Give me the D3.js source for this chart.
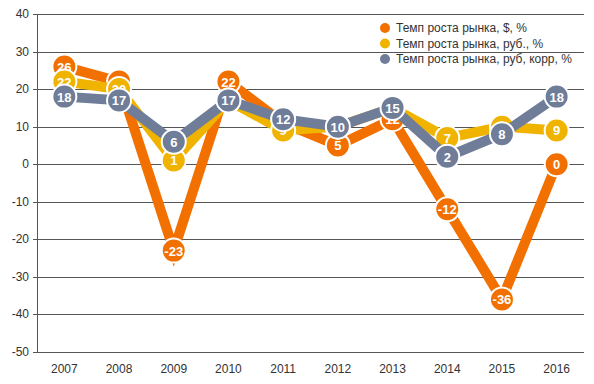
<!DOCTYPE html>
<html>
<head>
<meta charset="utf-8">
<script src="https://cdn.jsdelivr.net/npm/d3@7"></script>
<style>
  body { margin: 0; background: #fff; }
  text { font-family: Arial, "Liberation Sans", sans-serif; }
</style>
</head>
<body>
<svg></svg>
<script>
var width = 594;
var height = 384;

// data
var years = ['2007', '2008', '2009', '2010', '2011', '2012', '2013', '2014', '2015', '2016'];
var usd = [26, 22, -23, 22, 11, 5, 12, -12, -36, 0];
var rub = [22, 20, 1, 17, 9, 10, 15, 7, 10, 9];
var rubCorr = [18, 17, 6, 17, 12, 10, 15, 2, 8, 18];
var seriesNames = ['Темп роста рынка, $, %', 'Темп роста рынка, руб., %', 'Темп роста рынка, руб, корр, %'];
var colors = ['#f27000', '#efb300', '#6f7d99'];
var yTicks = [40, 30, 20, 10, 0, -10, -20, -30, -40, -50];

var series = [usd, rub, rubCorr];

var svg = d3.select('svg')
            .attr('width', width)
            .attr('height', height);

var x = d3.scaleBand()
          .domain(years)
          .range([37, 584]);

var y = d3.scaleLinear()
          .domain([-50, 40])
          .range([352, 14]);

// grid
svg.append('g')
   .selectAll('line')
   .data(yTicks)
   .enter()
   .append('line')
   .attr('x1', 33)
   .attr('x2', 584)
   .attr('y1', d => Math.round(y(d)) + 0.5)
   .attr('y2', d => Math.round(y(d)) + 0.5)
   .attr('stroke', '#555')
   .attr('stroke-width', 1);

svg.append('line')
   .attr('x1', 37.5).attr('x2', 37.5)
   .attr('y1', y(40)).attr('y2', y(-50))
   .attr('stroke', '#555');

svg.append('g')
   .selectAll('text')
   .data(yTicks)
   .enter()
   .append('text')
   .attr('x', 29)
   .attr('y', d => y(d) + 4)
   .attr('text-anchor', 'end')
   .attr('font-size', 12)
   .attr('fill', '#333')
   .text(d => d);

svg.append('g')
   .selectAll('text')
   .data(years)
   .enter()
   .append('text')
   .attr('x', d => x(d) + x.bandwidth() / 2)
   .attr('y', 373)
   .attr('text-anchor', 'middle')
   .attr('font-size', 12)
   .attr('fill', '#333')
   .text(d => d);

var line = d3.line()
             .x((d, i) => x(years[i]) + x.bandwidth() / 2)
             .y(d => y(d));

series.forEach(function(vals, k) {
  var g = svg.append('g');
  g.append('path')
   .attr('d', line(vals))
   .attr('fill', 'none')
   .attr('stroke', colors[k])
   .attr('stroke-width', 10)
   .attr('stroke-linejoin', 'miter');

  var pts = g.selectAll('g')
             .data(vals)
             .enter()
             .append('g')
             .attr('transform', (d, i) => 'translate(' + (x(years[i]) + x.bandwidth() / 2) + ',' + y(d) + ')');

  pts.append('circle')
     .attr('r', 12)
     .attr('fill', colors[k])
     .attr('stroke', '#fff')
     .attr('stroke-width', 2);

  pts.append('text')
     .attr('y', 5)
     .attr('text-anchor', 'middle')
     .attr('font-size', 13)
     .attr('font-weight', 'bold')
     .attr('fill', '#fff')
     .text(d => d);
});

// legend
var legend = svg.append('g')
                .selectAll('g')
                .data(seriesNames)
                .enter()
                .append('g')
                .attr('transform', (d, i) => 'translate(385,' + (28 + i * 15.5) + ')');

legend.append('circle')
      .attr('r', 5)
      .attr('fill', (d, i) => colors[i]);

legend.append('text')
      .attr('x', 11)
      .attr('y', 4)
      .attr('font-size', 12)
      .attr('fill', '#333')
      .text(d => d);
</script>
</body>
</html>
